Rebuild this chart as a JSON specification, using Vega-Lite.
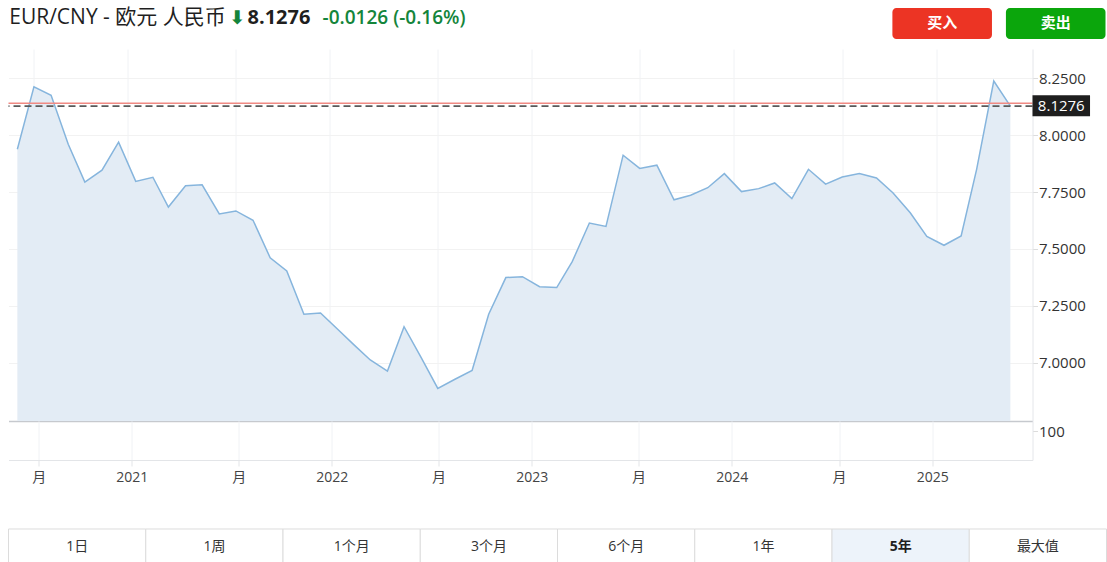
{
  "$schema": "https://vega.github.io/schema/vega-lite/v6.json",
  "background": "white",
  "padding": {"left": 7.5, "top": 7, "right": 0, "bottom": 0},
  "autosize": {"type": "pad"},
  "spacing": 0,
  "config": {"view": {"stroke": null}, "font": "Open Sans, Noto Sans CJK SC"},
  "datasets": {
    "quote": [{"pair": "EUR/CNY - 欧元 人民币", "arrow": "⬇", "last": 8.1276, "prev_close": 8.1402, "change_label": "-0.0126 (-0.16%)"}],
    "trade": [{"action": "买入"}, {"action": "卖出"}],
    "ranges": [{"range": "1日"}, {"range": "1周"}, {"range": "1个月"}, {"range": "3个月"}, {"range": "6个月"}, {"range": "1年"}, {"range": "5年"}, {"range": "最大值"}],
    "fx": [
      {"date": "2020-06-15", "close": 7.938},
      {"date": "2020-07-15", "close": 8.213},
      {"date": "2020-08-15", "close": 8.175},
      {"date": "2020-09-15", "close": 7.960},
      {"date": "2020-10-15", "close": 7.794},
      {"date": "2020-11-15", "close": 7.846},
      {"date": "2020-12-15", "close": 7.969},
      {"date": "2021-01-15", "close": 7.797},
      {"date": "2021-02-15", "close": 7.815},
      {"date": "2021-03-15", "close": 7.684},
      {"date": "2021-04-15", "close": 7.778},
      {"date": "2021-05-15", "close": 7.782},
      {"date": "2021-06-15", "close": 7.654},
      {"date": "2021-07-15", "close": 7.667},
      {"date": "2021-08-15", "close": 7.626},
      {"date": "2021-09-15", "close": 7.461},
      {"date": "2021-10-15", "close": 7.403},
      {"date": "2021-11-15", "close": 7.213},
      {"date": "2021-12-15", "close": 7.218},
      {"date": "2022-01-15", "close": 7.147},
      {"date": "2022-02-15", "close": 7.075},
      {"date": "2022-03-15", "close": 7.012},
      {"date": "2022-04-15", "close": 6.963},
      {"date": "2022-05-15", "close": 7.158},
      {"date": "2022-06-15", "close": 7.022},
      {"date": "2022-07-15", "close": 6.887},
      {"date": "2022-08-15", "close": 6.927},
      {"date": "2022-09-15", "close": 6.966},
      {"date": "2022-10-15", "close": 7.213},
      {"date": "2022-11-15", "close": 7.374},
      {"date": "2022-12-15", "close": 7.378},
      {"date": "2023-01-15", "close": 7.334},
      {"date": "2023-02-15", "close": 7.330},
      {"date": "2023-03-15", "close": 7.444},
      {"date": "2023-04-15", "close": 7.614},
      {"date": "2023-05-15", "close": 7.599},
      {"date": "2023-06-15", "close": 7.912},
      {"date": "2023-07-15", "close": 7.854},
      {"date": "2023-08-15", "close": 7.868},
      {"date": "2023-09-15", "close": 7.716},
      {"date": "2023-10-15", "close": 7.736},
      {"date": "2023-11-15", "close": 7.769},
      {"date": "2023-12-15", "close": 7.831},
      {"date": "2024-01-15", "close": 7.752},
      {"date": "2024-02-15", "close": 7.765},
      {"date": "2024-03-15", "close": 7.790},
      {"date": "2024-04-15", "close": 7.721},
      {"date": "2024-05-15", "close": 7.850},
      {"date": "2024-06-15", "close": 7.785},
      {"date": "2024-07-15", "close": 7.816},
      {"date": "2024-08-15", "close": 7.831},
      {"date": "2024-09-15", "close": 7.812},
      {"date": "2024-10-15", "close": 7.746},
      {"date": "2024-11-15", "close": 7.659},
      {"date": "2024-12-15", "close": 7.555},
      {"date": "2025-01-15", "close": 7.516},
      {"date": "2025-02-15", "close": 7.557},
      {"date": "2025-03-15", "close": 7.850},
      {"date": "2025-04-15", "close": 8.238},
      {"date": "2025-05-15", "close": 8.1276}
    ]
  },
  "vconcat": [
    {
      "hconcat": [
        {
          "width": 218, "height": 20,
          "data": {"name": "quote"},
          "mark": {"type": "text", "fontSize": 21, "color": "#1f1f1f", "font": "Open Sans, Noto Sans CJK SC"},
          "encoding": {"text": {"field": "pair"}}
        },
        {
          "width": 6, "height": 20,
          "data": {"name": "quote"},
          "mark": {"type": "text", "align": "left", "fontSize": 19, "fontWeight": "bold", "color": "#14853b", "font": "DejaVu Sans"},
          "encoding": {"text": {"field": "arrow"}}
        },
        {
          "width": 30, "height": 20,
          "data": {"name": "quote"},
          "mark": {"type": "text", "align": "left", "fontSize": 20, "fontWeight": "bold", "color": "#1f1f1f", "font": "Open Sans"},
          "encoding": {"text": {"field": "last", "format": ".4f"}}
        },
        {
          "width": 406, "height": 20,
          "data": {"name": "quote"},
          "mark": {"type": "text", "align": "right", "fontSize": 19, "fontWeight": 600, "color": "#14853b", "font": "Open Sans"},
          "encoding": {"text": {"field": "change_label"}}
        },
        {
          "width": 437, "height": 41,
          "data": {"name": "trade"},
          "encoding": {
            "x": {"field": "action", "type": "nominal", "sort": null, "scale": {"paddingInner": 0.123, "paddingOuter": 0.986, "align": 1}, "axis": null},
            "y": {"datum": "buttons", "type": "nominal", "scale": {"paddingInner": 0, "paddingOuter": 0.1613, "align": 0}, "axis": null}
          },
          "layer": [
            {
              "mark": {"type": "rect", "cornerRadius": 4},
              "encoding": {"color": {"field": "action", "type": "nominal", "scale": {"domain": ["买入", "卖出"], "range": ["#ec3424", "#0ba60c"]}, "legend": null}}
            },
            {
              "mark": {"type": "text", "color": "white", "fontSize": 15, "fontWeight": "bold", "font": "Noto Sans CJK SC"},
              "encoding": {"text": {"field": "action"}}
            }
          ]
        }
      ],
      "spacing": 0,
      "bounds": "flush"
    },
    {
      "width": 1024, "height": 372,
      "layer": [
        {
          "data": {"name": "fx"},
          "mark": {"type": "area", "clip": true, "color": "#e3ecf5", "opacity": 1, "line": {"color": "#86b5dd", "strokeWidth": 1.5}},
          "encoding": {
            "x": {
              "field": "date", "type": "temporal",
              "scale": {"domain": [{"year": 2020, "month": 5, "date": 30, "utc": true}, {"year": 2025, "month": 6, "date": 24, "utc": true}]},
              "axis": {
                "title": null, "labels": false, "ticks": false,
                "domain": true, "domainColor": "#c6c9ce", "domainWidth": 1.5,
                "grid": true, "gridColor": "#f0f2f5",
                "values": [
                  {"year": 2020, "month": 7, "date": 15, "utc": true},
                  {"year": 2021, "month": 1, "date": 1, "utc": true},
                  {"year": 2021, "month": 7, "date": 15, "utc": true},
                  {"year": 2022, "month": 1, "date": 1, "utc": true},
                  {"year": 2022, "month": 7, "date": 15, "utc": true},
                  {"year": 2023, "month": 1, "date": 1, "utc": true},
                  {"year": 2023, "month": 7, "date": 15, "utc": true},
                  {"year": 2024, "month": 1, "date": 1, "utc": true},
                  {"year": 2024, "month": 7, "date": 15, "utc": true},
                  {"year": 2025, "month": 1, "date": 1, "utc": true}
                ]
              }
            },
            "y": {
              "field": "close", "type": "quantitative",
              "scale": {"domain": [6.7436, 8.3788], "nice": false, "zero": false},
              "axis": {
                "title": null, "orient": "right",
                "values": [7, 7.25, 7.5, 7.75, 8, 8.25], "format": ".4f",
                "grid": true, "gridColor": "#f2f2f2",
                "domain": true, "domainColor": "#e4e6ea",
                "ticks": true, "tickColor": "#dcdcdc", "tickSize": 5,
                "labelPadding": 1, "labelFontSize": 15, "labelColor": "#333333", "labelFont": "Open Sans"
              }
            }
          }
        },
        {
          "data": {"name": "quote"},
          "mark": {"type": "rule", "color": "#f08a84", "strokeWidth": 1.5},
          "encoding": {"y": {"field": "prev_close", "type": "quantitative"}}
        },
        {
          "data": {"name": "quote"},
          "mark": {"type": "rule", "color": "#5a5a5a", "strokeWidth": 1.6, "strokeDash": [7, 4]},
          "encoding": {"y": {"field": "last", "type": "quantitative"}}
        },
        {
          "data": {"name": "quote"},
          "mark": {"type": "rect", "color": "#1e1e1e"},
          "encoding": {
            "x": {"datum": {"year": 2025, "month": 6, "date": 24, "utc": true}},
            "x2": {"datum": {"year": 2025, "month": 10, "date": 6, "utc": true}},
            "y": {"datum": 8.175},
            "y2": {"datum": 8.083}
          }
        },
        {
          "data": {"name": "quote"},
          "mark": {"type": "text", "color": "white", "fontSize": 15, "fontWeight": 500, "font": "Open Sans"},
          "encoding": {
            "x": {"datum": {"year": 2025, "month": 8, "date": 15, "utc": true}},
            "y": {"field": "last", "type": "quantitative"},
            "text": {"field": "last", "format": ".4f"}
          }
        }
      ]
    },
    {
      "width": 1024, "height": 39,
      "data": {"values": []},
      "mark": "bar",
      "encoding": {
        "x": {
          "field": "date", "type": "temporal",
          "scale": {"domain": [{"year": 2020, "month": 5, "date": 30, "utc": true}, {"year": 2025, "month": 6, "date": 24, "utc": true}]},
          "axis": {
            "title": null,
            "values": [
              {"year": 2020, "month": 7, "date": 15, "utc": true},
              {"year": 2021, "month": 1, "date": 1, "utc": true},
              {"year": 2021, "month": 7, "date": 15, "utc": true},
              {"year": 2022, "month": 1, "date": 1, "utc": true},
              {"year": 2022, "month": 7, "date": 15, "utc": true},
              {"year": 2023, "month": 1, "date": 1, "utc": true},
              {"year": 2023, "month": 7, "date": 15, "utc": true},
              {"year": 2024, "month": 1, "date": 1, "utc": true},
              {"year": 2024, "month": 7, "date": 15, "utc": true},
              {"year": 2025, "month": 1, "date": 1, "utc": true}
            ],
            "labelExpr": "utcmonth(datum.value) == 0 ? utcFormat(datum.value, '%Y') : '月'",
            "grid": true, "gridColor": "#f0f2f5",
            "domain": true, "domainColor": "#e3e5e8",
            "ticks": true, "tickColor": "#e3e5e8", "tickSize": 6,
            "labelPadding": 4, "labelFontSize": 14, "labelColor": "#444444",
            "labelFont": "Open Sans, Noto Sans CJK SC"
          }
        },
        "y": {
          "field": "volume", "type": "quantitative",
          "scale": {"domain": [0, 134.5], "nice": false},
          "axis": {
            "title": null, "orient": "right", "values": [100], "format": "d",
            "grid": false, "domain": true, "domainColor": "#e4e6ea",
            "ticks": true, "tickColor": "#dcdcdc", "tickSize": 5,
            "labelPadding": 1, "labelFontSize": 15, "labelColor": "#333333", "labelFont": "Open Sans"
          }
        }
      }
    },
    {
      "width": 1098, "height": 82,
      "data": {"name": "ranges"},
      "encoding": {
        "x": {"field": "range", "type": "nominal", "sort": null, "scale": {"paddingInner": 0, "paddingOuter": 0}, "axis": null},
        "y": {"datum": "ranges", "type": "nominal", "scale": {"paddingInner": 0, "paddingOuter": 0.608, "align": 1}, "axis": null}
      },
      "layer": [
        {
          "mark": {"type": "rect", "stroke": "#dcdcdc", "strokeWidth": 1},
          "encoding": {"fill": {"condition": {"test": "datum.range === '5年'", "value": "#edf3fa"}, "value": "#ffffff"}}
        },
        {
          "transform": [{"filter": "datum.range !== '5年'"}],
          "mark": {"type": "text", "fontSize": 14, "color": "#333333", "font": "Open Sans, Noto Sans CJK SC"},
          "encoding": {"text": {"field": "range"}}
        },
        {
          "transform": [{"filter": "datum.range === '5年'"}],
          "mark": {"type": "text", "fontSize": 14, "fontWeight": "bold", "color": "#1f1f1f", "font": "Open Sans, Noto Sans CJK SC"},
          "encoding": {"text": {"field": "range"}}
        }
      ]
    }
  ]
}
